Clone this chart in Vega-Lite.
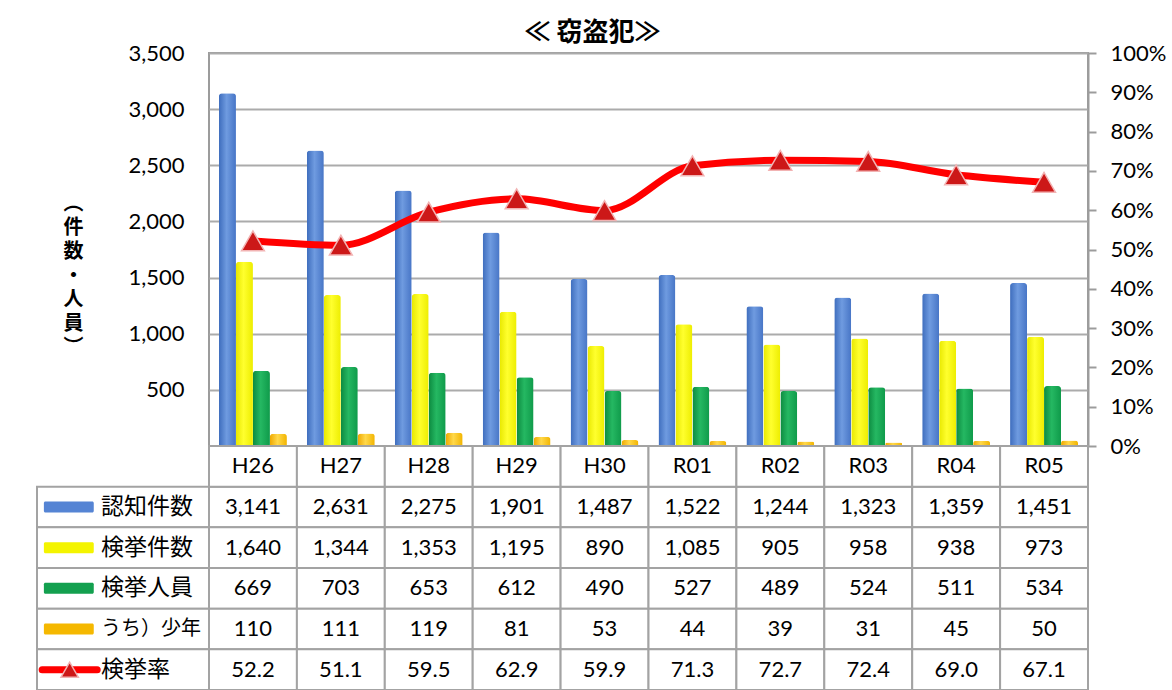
{
  "$schema": "https://vega.github.io/schema/vega-lite/v6.json",
  "padding": {"left": 36, "top": 19, "right": 5, "bottom": 0},
  "background": "white",
  "config": {"view": {"stroke": null}},
  "datasets": {
    "stats": [
      {"year": "H26", "series": "認知件数", "value": 3141},
      {"year": "H26", "series": "検挙件数", "value": 1640},
      {"year": "H26", "series": "検挙人員", "value": 669},
      {"year": "H26", "series": "うち）少年", "value": 110},
      {"year": "H26", "series": "検挙率", "value": 52.2},
      {"year": "H27", "series": "認知件数", "value": 2631},
      {"year": "H27", "series": "検挙件数", "value": 1344},
      {"year": "H27", "series": "検挙人員", "value": 703},
      {"year": "H27", "series": "うち）少年", "value": 111},
      {"year": "H27", "series": "検挙率", "value": 51.1},
      {"year": "H28", "series": "認知件数", "value": 2275},
      {"year": "H28", "series": "検挙件数", "value": 1353},
      {"year": "H28", "series": "検挙人員", "value": 653},
      {"year": "H28", "series": "うち）少年", "value": 119},
      {"year": "H28", "series": "検挙率", "value": 59.5},
      {"year": "H29", "series": "認知件数", "value": 1901},
      {"year": "H29", "series": "検挙件数", "value": 1195},
      {"year": "H29", "series": "検挙人員", "value": 612},
      {"year": "H29", "series": "うち）少年", "value": 81},
      {"year": "H29", "series": "検挙率", "value": 62.9},
      {"year": "H30", "series": "認知件数", "value": 1487},
      {"year": "H30", "series": "検挙件数", "value": 890},
      {"year": "H30", "series": "検挙人員", "value": 490},
      {"year": "H30", "series": "うち）少年", "value": 53},
      {"year": "H30", "series": "検挙率", "value": 59.9},
      {"year": "R01", "series": "認知件数", "value": 1522},
      {"year": "R01", "series": "検挙件数", "value": 1085},
      {"year": "R01", "series": "検挙人員", "value": 527},
      {"year": "R01", "series": "うち）少年", "value": 44},
      {"year": "R01", "series": "検挙率", "value": 71.3},
      {"year": "R02", "series": "認知件数", "value": 1244},
      {"year": "R02", "series": "検挙件数", "value": 905},
      {"year": "R02", "series": "検挙人員", "value": 489},
      {"year": "R02", "series": "うち）少年", "value": 39},
      {"year": "R02", "series": "検挙率", "value": 72.7},
      {"year": "R03", "series": "認知件数", "value": 1323},
      {"year": "R03", "series": "検挙件数", "value": 958},
      {"year": "R03", "series": "検挙人員", "value": 524},
      {"year": "R03", "series": "うち）少年", "value": 31},
      {"year": "R03", "series": "検挙率", "value": 72.4},
      {"year": "R04", "series": "認知件数", "value": 1359},
      {"year": "R04", "series": "検挙件数", "value": 938},
      {"year": "R04", "series": "検挙人員", "value": 511},
      {"year": "R04", "series": "うち）少年", "value": 45},
      {"year": "R04", "series": "検挙率", "value": 69.0},
      {"year": "R05", "series": "認知件数", "value": 1451},
      {"year": "R05", "series": "検挙件数", "value": 973},
      {"year": "R05", "series": "検挙人員", "value": 534},
      {"year": "R05", "series": "うち）少年", "value": 50},
      {"year": "R05", "series": "検挙率", "value": 67.1}
    ]
  },
  "columns": 2,
  "spacing": 0,
  "bounds": "flush",
  "concat": [
    {
      "width": 172,
      "height": 393,
      "data": {"values": [{}]},
      "mark": {"type": "text"},
      "encoding": {"text": {"value": ""}}
    },
    {
      "width": 879,
      "height": 393,
      "data": {"name": "stats"},
      "view": {"stroke": "#9C9C9C", "strokeWidth": 2},
      "title": {
        "text": "≪ 窃盗犯≫",
        "font": "Noto Sans CJK JP",
        "fontSize": 26,
        "fontWeight": "bold",
        "color": "#000000",
        "anchor": "middle",
        "dx": -56,
        "offset": -4
      },
      "layer": [
        {
          "encoding": {
            "x": {"field": "year", "type": "nominal", "scale": {"paddingInner": 0.227, "paddingOuter": 0.1135}, "axis": null},
            "xOffset": {"field": "series", "type": "nominal", "scale": {"domain": ["認知件数", "検挙件数", "検挙人員", "うち）少年"], "paddingInner": 0, "paddingOuter": 0}},
            "y": {
              "field": "value",
              "type": "quantitative",
              "scale": {"domain": [0, 3500], "nice": false},
              "axis": {
                "values": [500, 1000, 1500, 2000, 2500, 3000, 3500],
                "format": ",.0f",
                "grid": true,
                "gridColor": "#ABABAB",
                "gridWidth": 2,
                "ticks": false,
                "domain": false,
                "labelFont": "Lato",
                "labelFontSize": 22,
                "labelColor": "#000000",
                "labelPadding": 25,
                "title": ["︵", "件", "数", "・", "人", "員", "︶"],
                "titleAngle": 0,
                "titleFont": "Noto Sans CJK JP",
                "titleFontSize": 20,
                "titleFontWeight": "bold",
                "titleColor": "#000000",
                "titleLineHeight": 24,
                "titleAlign": "center",
                "titleBaseline": "middle",
                "titleX": -136,
                "titleY": 150
              }
            }
          },
          "layer": [
            {
              "transform": [{"filter": "datum.series == '認知件数'"}],
              "mark": {"type": "bar", "cornerRadiusTopLeft": 3, "cornerRadiusTopRight": 3,
                "fill": {"gradient": "linear", "x1": 0, "y1": 0, "x2": 1, "y2": 0,
                  "stops": [{"offset": 0, "color": "#3E6DBD"}, {"offset": 0.45, "color": "#6F9BE0"}, {"offset": 1, "color": "#4775C6"}]}}
            },
            {
              "transform": [{"filter": "datum.series == '検挙件数'"}],
              "mark": {"type": "bar", "cornerRadiusTopLeft": 3, "cornerRadiusTopRight": 3,
                "fill": {"gradient": "linear", "x1": 0, "y1": 0, "x2": 1, "y2": 0,
                  "stops": [{"offset": 0, "color": "#E8E800"}, {"offset": 0.45, "color": "#FFFF2E"}, {"offset": 1, "color": "#EDED00"}]}}
            },
            {
              "transform": [{"filter": "datum.series == '検挙人員'"}],
              "mark": {"type": "bar", "cornerRadiusTopLeft": 3, "cornerRadiusTopRight": 3,
                "fill": {"gradient": "linear", "x1": 0, "y1": 0, "x2": 1, "y2": 0,
                  "stops": [{"offset": 0, "color": "#0C8A40"}, {"offset": 0.45, "color": "#25B862"}, {"offset": 1, "color": "#0F9A4A"}]}}
            },
            {
              "transform": [{"filter": "datum.series == 'うち）少年'"}],
              "mark": {"type": "bar", "cornerRadiusTopLeft": 3, "cornerRadiusTopRight": 3,
                "fill": {"gradient": "linear", "x1": 0, "y1": 0, "x2": 1, "y2": 0,
                  "stops": [{"offset": 0, "color": "#EFA800"}, {"offset": 0.45, "color": "#FFD84A"}, {"offset": 1, "color": "#F2B400"}]}}
            }
          ]
        },
        {
          "transform": [{"filter": "datum.series == '検挙率'"}],
          "encoding": {
            "x": {"field": "year", "type": "nominal"},
            "y": {
              "field": "value",
              "type": "quantitative",
              "scale": {"domain": [0, 100], "nice": false},
              "axis": {
                "orient": "right",
                "values": [0, 10, 20, 30, 40, 50, 60, 70, 80, 90, 100],
                "labelExpr": "datum.value + '%'",
                "grid": false,
                "ticks": true,
                "tickColor": "#9C9C9C",
                "tickWidth": 2,
                "tickSize": 8,
                "domain": true,
                "domainColor": "#9C9C9C",
                "domainWidth": 2,
                "labelFont": "Lato",
                "labelFontSize": 22,
                "labelColor": "#000000",
                "labelPadding": 14,
                "title": null
              }
            }
          },
          "layer": [
            {"mark": {"type": "line", "color": "#FF0000", "strokeWidth": 7, "interpolate": "monotone"}},
            {"mark": {"type": "point", "shape": "triangle-up", "size": 520, "filled": true, "fill": "#CC1818", "stroke": "#F2B3B3", "strokeWidth": 1.5, "opacity": 1}}
          ]
        }
      ],
      "resolve": {"scale": {"y": "independent"}}
    },
    {
      "width": 172,
      "height": 244,
      "data": {"name": "stats"},
      "transform": [{"filter": "datum.year == 'H26'"}],
      "encoding": {
        "y": {"field": "series", "type": "nominal", "scale": {"domain": ["年度", "認知件数", "検挙件数", "検挙人員", "うち）少年", "検挙率"], "paddingInner": 0, "paddingOuter": 0}, "axis": null}
      },
      "layer": [
        {
          "mark": {"type": "rect", "fill": "white", "stroke": "#A3A3A3", "strokeWidth": 2},
          "encoding": {
            "x": {"datum": 0, "type": "quantitative", "scale": {"domain": [0, 1], "nice": false, "zero": false}, "axis": null},
            "x2": {"datum": 1}
          }
        },
        {
          "transform": [{"filter": "datum.series != '検挙率'"}],
          "mark": {"type": "bar", "height": 11, "cornerRadius": 1.5},
          "encoding": {
            "x": {"datum": 0.04, "type": "quantitative"},
            "x2": {"datum": 0.33},
            "color": {"field": "series", "type": "nominal", "scale": {"domain": ["認知件数", "検挙件数", "検挙人員", "うち）少年"], "range": ["#5584D4", "#F4F400", "#13A04F", "#F5B800"]}, "legend": null}
          }
        },
        {
          "transform": [{"filter": "datum.series == '検挙率'"}],
          "mark": {"type": "rule", "color": "#FF0000", "strokeWidth": 7, "strokeCap": "round"},
          "encoding": {
            "x": {"datum": 0.03, "type": "quantitative"},
            "x2": {"datum": 0.35}
          }
        },
        {
          "transform": [{"filter": "datum.series == '検挙率'"}],
          "mark": {"type": "point", "shape": "triangle-up", "size": 300, "filled": true, "fill": "#CC1818", "stroke": "#F2B3B3", "strokeWidth": 1.5, "opacity": 1},
          "encoding": {
            "x": {"datum": 0.19, "type": "quantitative"}
          }
        },
        {
          "mark": {"type": "text", "align": "left", "baseline": "middle", "font": "Noto Sans CJK JP", "color": "#000000"},
          "encoding": {
            "x": {"datum": 0.372, "type": "quantitative"},
            "text": {"field": "series"},
            "size": {"condition": {"test": "datum.series == 'うち）少年'", "value": 20}, "value": 23}
          }
        }
      ]
    },
    {
      "width": 879,
      "height": 244,
      "data": {"name": "stats"},
      "encoding": {
        "x": {"field": "year", "type": "nominal", "scale": {"paddingInner": 0, "paddingOuter": 0}, "axis": null}
      },
      "layer": [
        {
          "mark": {"type": "rect", "fill": "white", "stroke": "#A3A3A3", "strokeWidth": 2},
          "encoding": {
            "y": {"field": "series", "type": "nominal", "scale": {"domain": ["年度", "認知件数", "検挙件数", "検挙人員", "うち）少年", "検挙率"], "paddingInner": 0, "paddingOuter": 0}, "axis": null}
          }
        },
        {
          "transform": [{"filter": "datum.series == '検挙率'"}],
          "mark": {"type": "rect", "fill": "white", "stroke": "#A3A3A3", "strokeWidth": 2},
          "encoding": {
            "y": {"datum": "年度", "type": "nominal"}
          }
        },
        {
          "transform": [{"filter": "datum.series == '検挙率'"}],
          "mark": {"type": "text", "baseline": "middle", "font": "Lato", "fontSize": 22, "color": "#000000"},
          "encoding": {
            "y": {"datum": "年度", "type": "nominal"},
            "text": {"field": "year"}
          }
        },
        {
          "transform": [{"filter": "datum.series != '検挙率'"}],
          "mark": {"type": "text", "baseline": "middle", "font": "Lato", "fontSize": 22, "color": "#000000"},
          "encoding": {
            "y": {"field": "series", "type": "nominal"},
            "text": {"field": "value", "type": "quantitative", "format": ","}
          }
        },
        {
          "transform": [{"filter": "datum.series == '検挙率'"}],
          "mark": {"type": "text", "baseline": "middle", "font": "Lato", "fontSize": 22, "color": "#000000"},
          "encoding": {
            "y": {"field": "series", "type": "nominal"},
            "text": {"field": "value", "type": "quantitative", "format": ".1f"}
          }
        }
      ]
    }
  ]
}
